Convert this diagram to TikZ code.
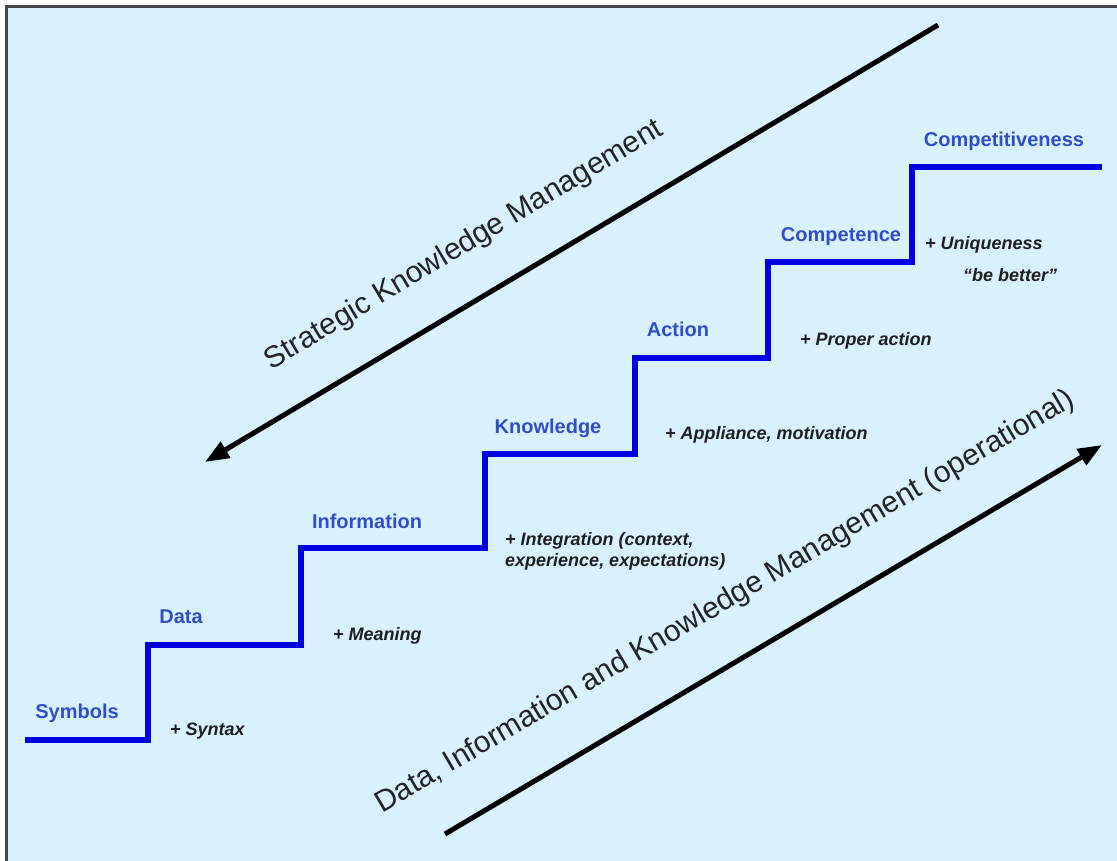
\documentclass[tikz,border=0pt]{standalone}
\usepackage{fontspec}
\setmainfont{Liberation Sans}
\usetikzlibrary{arrows.meta}
\definecolor{bgblue}{RGB}{217,241,253}
\definecolor{stairblue}{RGB}{0,0,225}
\definecolor{lblblue}{RGB}{48,78,200}
\definecolor{framegray}{RGB}{70,70,75}
\definecolor{notegray}{RGB}{30,30,30}
\definecolor{diaggray}{RGB}{35,35,35}
\begin{document}
\begin{tikzpicture}[x=1pt,y=-1pt,
  level/.style={font=\fontsize{20}{24}\selectfont\bfseries, text=lblblue, inner sep=0pt, anchor=base},
  note/.style={font=\fontsize{18}{21}\selectfont\bfseries\itshape, text=notegray, inner sep=0pt, anchor=base west, align=left},
  diag/.style={font=\fontsize{30}{34}\selectfont, text=diaggray, inner sep=0pt, anchor=base},
  stair/.style={draw=stairblue, line width=5.5pt, line join=miter},
  bigarrow/.style={draw=black, line width=5pt, -{Triangle[length=24pt,width=18pt]}}]
\useasboundingbox (0,0) rectangle (1117,861);
\fill[white] (0,0) rectangle (1117,861);
\begin{scope}
\clip (0,0) rectangle (1117,861);
\draw[fill=bgblue, draw=framegray, line width=2.5pt] (6.5,6.5) rectangle (1130,875);
\end{scope}

% staircase
\draw[stair] (25,740) -- (148,740) -- (148,645) -- (301,645) -- (301,548)
  -- (485,548) -- (485,454) -- (635,454) -- (635,358) -- (768,358)
  -- (768,262) -- (912,262) -- (912,167) -- (1102,167);

% level labels
\node[level] (symbols) at (77,718) {Symbols};
\node[level] (data) at (181,623) {Data};
\node[level] (information) at (367,528) {Information};
\node[level] (knowledge) at (548,433) {Knowledge};
\node[level] (action) at (678,336) {Action};
\node[level] (competence) at (841,242) {Competence};
\node[level] (competitiveness) at (1004,147) {Competitiveness};

% notes
\node[note] (syntax) at (170,735) {+ Syntax};
\node[note] (meaning) at (333,640) {+ Meaning};
\node[note] (integration) at (505,545) {+ Integration (context,};
\node[note] (integration2) at (505,566) {experience, expectations)};
\node[note] (appliance) at (665,439) {+ Appliance, motivation};
\node[note] (proper) at (800,345) {+ Proper action};
\node[note] (unique) at (925,250) {+ Uniqueness};
\node[note] (better) at (963,281) {“be better”};

% arrows
\coordinate (sA) at (938,25);
\coordinate (sB) at (205,462);
\coordinate (oA) at (445,834);
\coordinate (oB) at (1102,445);
\draw[bigarrow] (sA) -- (sB);
\draw[bigarrow] (oA) -- (oB);

% diagonal texts
\node[diag, rotate=31] (strategic) at (468,252) {Strategic Knowledge Management};
\node[diag, rotate=30.5] (operational) at (729,609) {Data, Information and Knowledge Management (operational)};
\end{tikzpicture}
\end{document}
